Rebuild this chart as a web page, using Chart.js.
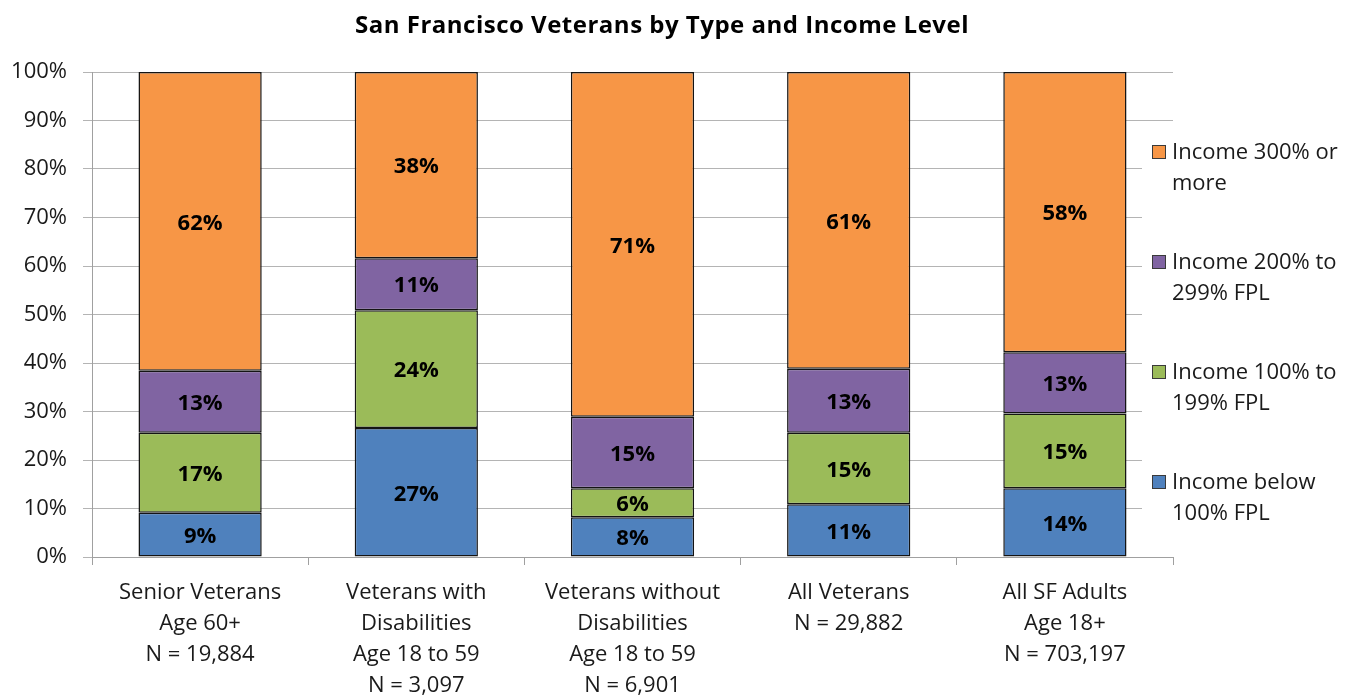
<!DOCTYPE html>
<html>
<head>
<meta charset="utf-8">
<title>San Francisco Veterans by Type and Income Level</title>
<script src="https://cdn.jsdelivr.net/npm/chart.js@4.4.1/dist/chart.umd.min.js"></script>
<style>
  html, body { margin: 0; padding: 0; background: #ffffff; }
  #wrap { width: 1356px; height: 696px; position: relative; }
</style>
</head>
<body>
<div id="wrap"><canvas id="chart" width="1356" height="696"></canvas></div>
<script>
// Group labels (one line per array entry)
const categories = [
  ['Senior Veterans', 'Age 60+', 'N = 19,884'],
  ['Veterans with', 'Disabilities', 'Age 18 to 59', 'N = 3,097'],
  ['Veterans without', 'Disabilities', 'Age 18 to 59', 'N = 6,901'],
  ['All Veterans', 'N = 29,882'],
  ['All SF Adults', 'Age 18+', 'N = 703,197']
];

// Share of each group by income level (percent of group)
const below100 = [9.1, 26.6, 8.2, 10.9, 14.2];
const from100to199 = [16.5, 24.3, 6.0, 14.7, 15.4];
const from200to299 = [12.8, 10.7, 14.7, 13.2, 12.6];
const atLeast300 = [61.6, 38.4, 71.1, 61.2, 57.8];

// Series names, split into the lines used in the legend
const seriesNames = [
  ['Income below', '100% FPL'],
  ['Income 100% to', '199% FPL'],
  ['Income 200% to', '299% FPL'],
  ['Income 300% or', 'more']
];

const yTicks = [0, 10, 20, 30, 40, 50, 60, 70, 80, 90, 100];

const chartTitle = 'San Francisco Veterans by Type and Income Level';

const FONT = '"Open Sans", "Noto Sans", sans-serif';
const colors = ['#4F81BD', '#9BBB59', '#8064A2', '#F79646'];
const seriesValues = [below100, from100to199, from200to299, atLeast300];

// Title, centred over the plot and legend together
const titleText = {
  id: 'titleText',
  afterDraw(chart) {
    const ctx = chart.ctx;
    ctx.save();
    ctx.font = 'bold 24px ' + FONT;
    if ('letterSpacing' in ctx) ctx.letterSpacing = '0.5px';
    ctx.fillStyle = '#000000';
    ctx.textAlign = 'center';
    ctx.textBaseline = 'alphabetic';
    ctx.fillText(chartTitle, 662, 33);
    ctx.restore();
  }
};

// Rounded percentage printed in the middle of every segment
const segmentLabels = {
  id: 'segmentLabels',
  afterDatasetsDraw(chart) {
    const ctx = chart.ctx;
    ctx.save();
    ctx.font = 'bold 22px ' + FONT;
    ctx.fillStyle = '#000000';
    ctx.textAlign = 'center';
    ctx.textBaseline = 'middle';
    chart.data.datasets.forEach((ds, di) => {
      const meta = chart.getDatasetMeta(di);
      meta.data.forEach((bar, i) => {
        const p = bar.getProps(['x', 'y', 'base'], true);
        ctx.fillText(Math.round(ds.data[i]) + '%', p.x, (p.y + p.base) / 2 + 2);
      });
    });
    ctx.restore();
  }
};

// Legend at the right, top series first, two lines per entry
const sideLegend = {
  id: 'sideLegend',
  afterDraw(chart) {
    const ctx = chart.ctx;
    const ds = chart.data.datasets;
    ctx.save();
    ctx.fillStyle = '#ffffff';
    ctx.fillRect(1142, 128, 214, 410);
    ctx.font = '22px ' + FONT;
    ctx.textAlign = 'left';
    ctx.textBaseline = 'middle';
    for (let k = 0; k < ds.length; k++) {
      const di = ds.length - 1 - k;
      const cy = 152 + k * 110;
      ctx.fillStyle = ds[di].backgroundColor;
      ctx.fillRect(1152, cy - 7, 14, 14);
      ctx.strokeStyle = '#3a3a3a';
      ctx.lineWidth = 1;
      ctx.strokeRect(1152.5, cy - 6.5, 13, 13);
      ctx.fillStyle = '#1a1a1a';
      seriesNames[di].forEach((line, j) => ctx.fillText(line, 1172, cy + 1 + j * 31));
    }
    ctx.restore();
  }
};

new Chart(document.getElementById('chart'), {
  type: 'bar',
  data: {
    labels: categories,
    datasets: seriesValues.map((vals, i) => ({
      label: seriesNames[i].join(' '),
      data: vals,
      backgroundColor: colors[i],
      borderColor: '#141414',
      borderWidth: 1.5,
      borderSkipped: false,
      barPercentage: 0.57,
      categoryPercentage: 1.0
    }))
  },
  options: {
    responsive: false,
    animation: false,
    devicePixelRatio: 1,
    layout: { padding: { left: 0, right: 183, top: 72, bottom: 0 } },
    plugins: {
      legend: { display: false },
      tooltip: { enabled: false },
      title: { display: false }
    },
    scales: {
      x: {
        stacked: true,
        offset: true,
        afterFit(scale) { scale.height = 139; },
        grid: {
          offset: true,
          drawOnChartArea: false,
          drawTicks: true,
          tickLength: 8,
          color: '#a0a0a0'
        },
        border: { display: true, color: '#a0a0a0', width: 1 },
        ticks: {
          color: '#1a1a1a',
          padding: 12,
          maxRotation: 0,
          autoSkip: false,
          font: { family: FONT, size: 22, lineHeight: 1.41 }
        }
      },
      y: {
        stacked: true,
        min: 0,
        max: 100,
        afterFit(scale) { scale.width = 92; },
        afterBuildTicks(scale) { scale.ticks = yTicks.map(v => ({ value: v })); },
        grid: {
          color: '#b4b4b4',
          lineWidth: 1,
          drawTicks: true,
          tickLength: 9
        },
        border: { display: true, color: '#a0a0a0', width: 1 },
        ticks: {
          color: '#1a1a1a',
          padding: 16,
          font: { family: FONT, size: 22 },
          callback: v => v + '%'
        }
      }
    }
  },
  plugins: [segmentLabels, sideLegend, titleText]
});
</script>
</body>
</html>
